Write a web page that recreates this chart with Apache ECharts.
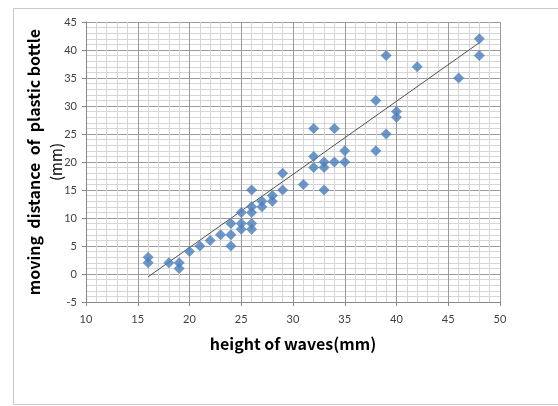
<!DOCTYPE html>
<html><head><meta charset="utf-8">
<script src="https://cdn.jsdelivr.net/npm/echarts@6/dist/echarts.min.js"></script>
<style>html,body{margin:0;padding:0;background:#fff}#c{width:558px;height:406px}</style>
</head><body><div id="c"></div>
<script>
var heights = [16,16,18,19,19,20,21,22,23,24,24,24,25,25,25,26,26,26,26,26,27,27,28,28,29,29,31,32,32,32,33,33,33,34,34,35,35,38,38,39,39,40,40,42,46,48,48];
var distances = [3,2,2,2,1,4,5,6,7,9,7,5,11,9,8,15,12,11,9,8,13,12,14,13,18,15,16,26,21,19,20,19,15,26,20,22,20,31,22,39,25,29,28,37,35,42,39];
var trendX = [16, 48];
var trendY = [-0.5, 41.3];
var xTicks = [10,15,20,25,30,35,40,45,50];
var yTicks = [-5,0,5,10,15,20,25,30,35,40,45];

var pts = heights.map(function(h,i){return [h, distances[i]];});
var trend = trendX.map(function(x,i){return [x, trendY[i]];});

var chart = echarts.init(document.getElementById('c'));
var labelFont = {color:'#404040', fontSize:11, fontFamily:'Lato'};
chart.setOption({
  animation:false,
  graphic:[{type:'rect', shape:{x:13.5,y:8.5,width:700,height:396}, style:{fill:'none', stroke:'#c8c8c8', lineWidth:1}, silent:true, z:-1}],
  grid:{left:86, right:58, top:22, bottom:104},
  xAxis:{
    type:'value', min:xTicks[0], max:xTicks[xTicks.length-1], interval:5,
    name:'height of waves(mm)', nameLocation:'middle', nameGap:34, nameMoveOverlap:false,
    nameTextStyle:{fontSize:16, fontWeight:'bold', color:'#000', fontFamily:'Noto Sans CJK JP'},
    axisLine:{show:true, onZero:false, lineStyle:{color:'#888', width:1}},
    axisTick:{show:true, length:4, lineStyle:{color:'#888'}},
    axisLabel:Object.assign({margin:12}, labelFont),
    splitLine:{show:true, lineStyle:{color:'#9a9a9a', width:1}},
    minorTick:{show:false, splitNumber:5},
    minorSplitLine:{show:true, lineStyle:{color:'#d6d6d6', width:1}}
  },
  yAxis:{
    type:'value', min:yTicks[0], max:yTicks[yTicks.length-1], interval:5,
    name:'moving  distance  of  plastic bottle\n{b|(mm)}', nameLocation:'middle', nameRotate:90, nameGap:18, nameMoveOverlap:false,
    nameTextStyle:{fontSize:16, fontWeight:'bold', color:'#000', fontFamily:'Noto Sans CJK JP', lineHeight:23,
      rich:{b:{fontSize:15, fontWeight:'normal', color:'#000', fontFamily:'Noto Sans CJK JP', lineHeight:23}}},
    axisLine:{show:true, onZero:false, lineStyle:{color:'#888', width:1}},
    axisTick:{show:true, length:4, lineStyle:{color:'#888'}},
    axisLabel:Object.assign({margin:9}, labelFont),
    splitLine:{show:true, lineStyle:{color:'#9a9a9a', width:1}},
    minorTick:{show:false, splitNumber:5},
    minorSplitLine:{show:true, lineStyle:{color:'#d6d6d6', width:1}}
  },
  series:[
    {type:'scatter', data:pts, symbol:'diamond', symbolSize:11, itemStyle:{color:'#4a7ebb'}, z:3},
    {type:'line', data:trend, symbol:'none', lineStyle:{color:'#505050', width:1}, z:2}
  ]
});
</script></body></html>
